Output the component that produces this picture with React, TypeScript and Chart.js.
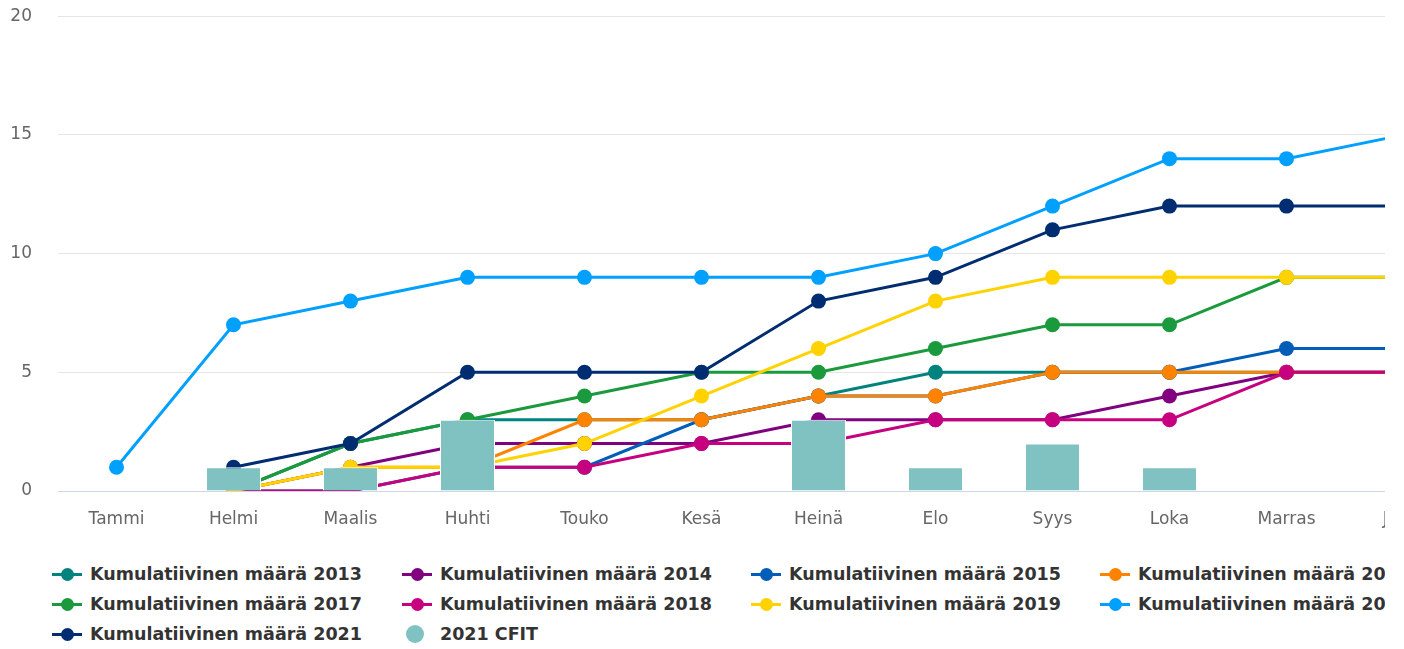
import React, { useEffect, useRef } from "react";
import { Chart, registerables } from "chart.js";

Chart.register(...registerables);

// ---- data ----
const months = ["Tammi", "Helmi", "Maalis", "Huhti", "Touko", "Kesä", "Heinä", "Elo", "Syys", "Loka", "Marras", "Joulu"];

const kum2013 = [null, 0, 2, 3, 3, 3, 4, 5, 5, 5, 5, 5];
const kum2014 = [null, 0, 1, 2, 2, 2, 3, 3, 3, 4, 5, 5];
const kum2015 = [null, 0, 0, 1, 1, 3, 4, 4, 5, 5, 6, 6];
const kum2016 = [null, 0, 1, 1, 3, 3, 4, 4, 5, 5, 5, 5];
const kum2017 = [null, 0, 2, 3, 4, 5, 5, 6, 7, 7, 9, 9];
const kum2018 = [null, 0, 0, 1, 1, 2, 2, 3, 3, 3, 5, 5];
const kum2019 = [null, 0, 1, 1, 2, 4, 6, 8, 9, 9, 9, 9];
const kum2020 = [1, 7, 8, 9, 9, 9, 9, 10, 12, 14, 14, 15];
const kum2021 = [null, 1, 2, 5, 5, 5, 8, 9, 11, 12, 12, 12];
const cfit2021 = [null, 1, 1, 3, null, null, 3, 1, 2, 1, null, null];

const yTicks = [0, 5, 10, 15, 20];

const lineLabels = [
  "Kumulatiivinen määrä 2013",
  "Kumulatiivinen määrä 2014",
  "Kumulatiivinen määrä 2015",
  "Kumulatiivinen määrä 2016",
  "Kumulatiivinen määrä 2017",
  "Kumulatiivinen määrä 2018",
  "Kumulatiivinen määrä 2019",
  "Kumulatiivinen määrä 2020",
  "Kumulatiivinen määrä 2021",
];
const lineData = [kum2013, kum2014, kum2015, kum2016, kum2017, kum2018, kum2019, kum2020, kum2021];
const barLabel = "2021 CFIT";

// ---- styles ----
const lineColors = ["#00827F", "#800080", "#005EB8", "#FF8200", "#1A9A3C", "#C6007E", "#FFD200", "#00A0FF", "#002D72"];
const barColor = "#80C2C2";
const FONT = "'DejaVu Sans', Verdana, sans-serif";

const CANVAS_W = 1480;
const CANVAS_H = 560;
const CANVAS_TOP = -20;

type LegendEntry = { label: string; color: string; kind: "line" | "bar" };

export default function App() {
  const canvasRef = useRef<HTMLCanvasElement | null>(null);

  useEffect(() => {
    if (!canvasRef.current) return;
    const datasets: any[] = lineLabels.map((label, i) => ({
      type: "line",
      label,
      data: lineData[i],
      borderColor: lineColors[i],
      backgroundColor: lineColors[i],
      pointBackgroundColor: lineColors[i],
      pointBorderWidth: 0,
      pointRadius: 7.5,
      borderWidth: 3,
      tension: 0,
      fill: false,
      order: 20 - i,
    }));
    datasets.push({
      type: "bar",
      label: barLabel,
      data: cfit2021,
      backgroundColor: barColor,
      borderColor: "#ffffff",
      borderWidth: 1,
      categoryPercentage: 0.47,
      barPercentage: 1,
      order: 0,
    });

    const chart = new Chart(canvasRef.current, {
      type: "bar",
      data: { labels: months, datasets },
      options: {
        responsive: false,
        animation: false,
        devicePixelRatio: 1,
        layout: { padding: { top: 0, right: 18, left: 0, bottom: 0 } },
        plugins: { legend: { display: false }, tooltip: { enabled: false } },
        scales: {
          x: {
            type: "category",
            offset: true,
            grid: { display: false, drawTicks: false },
            border: { display: true, color: "#ccd6eb", width: 1 },
            ticks: {
              color: "#666666",
              font: { family: FONT, size: 17 },
              padding: 18,
              maxRotation: 0,
              autoSkip: false,
            },
            afterFit: (s: any) => {
              s.height = 49;
            },
          },
          y: {
            min: 0,
            max: 20,
            afterBuildTicks: (s: any) => {
              s.ticks = yTicks.map((v) => ({ value: v }));
            },
            grid: { color: "#e6e6e6", drawTicks: false, lineWidth: 1 },
            border: { display: false },
            ticks: {
              color: "#666666",
              font: { family: FONT, size: 17 },
              padding: 26,
            },
            afterFit: (s: any) => {
              s.width = 58;
            },
          },
        },
      } as any,
    });
    return () => chart.destroy();
  }, []);

  const entries: LegendEntry[] = [
    ...lineLabels.map((l, i) => ({ label: l, color: lineColors[i], kind: "line" as const })),
    { label: barLabel, color: barColor, kind: "bar" as const },
  ];
  const colX = [52, 402, 751, 1100];
  const rowY = [574, 604, 634];

  return (
    <div style={{ position: "fixed", left: 0, top: 0, width: 1385, height: 649, overflow: "hidden", background: "#fff" }}>
      <div style={{ position: "relative", width: CANVAS_W, height: 649 }}>
        <canvas
          ref={canvasRef}
          width={CANVAS_W}
          height={CANVAS_H}
          style={{ position: "absolute", left: 0, top: CANVAS_TOP, width: CANVAS_W, height: CANVAS_H }}
        />
        {entries.map((e, idx) => {
          const col = idx % 4;
          const row = Math.floor(idx / 4);
          return (
            <div
              key={e.label}
              style={{
                position: "absolute",
                left: colX[col],
                top: rowY[row] - 15,
                height: 30,
                display: "flex",
                alignItems: "center",
                whiteSpace: "nowrap",
              }}
            >
              {e.kind === "line" ? (
                <div style={{ position: "relative", width: 30, height: 3, background: e.color }}>
                  <div
                    style={{
                      position: "absolute",
                      left: 8.5,
                      top: -5,
                      width: 13,
                      height: 13,
                      borderRadius: "50%",
                      background: e.color,
                    }}
                  />
                </div>
              ) : (
                <div style={{ width: 30, height: 18, position: "relative" }}>
                  <div style={{ position: "absolute", left: 4, top: 0, width: 18, height: 18, borderRadius: "50%", background: e.color }} />
                </div>
              )}
              <span
                style={{
                  marginLeft: 8,
                  fontFamily: FONT,
                  fontWeight: "bold",
                  fontSize: 17.5,
                  color: "#333333",
                }}
              >
                {e.label}
              </span>
            </div>
          );
        })}
      </div>
    </div>
  );
}
